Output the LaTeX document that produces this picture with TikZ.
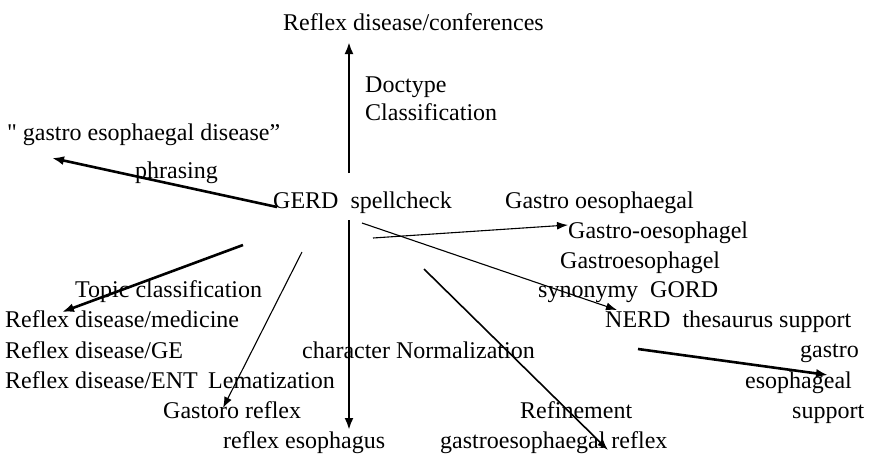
\documentclass[tikz,border=0pt]{standalone}
\usepackage{fontspec}
\setmainfont{Liberation Serif}
\usetikzlibrary{arrows.meta}
\begin{document}
\begin{tikzpicture}[x=1pt,y=-1pt,
  lbl/.style={anchor=base west,inner sep=0pt,font=\fontsize{24}{28}\selectfont},
  thick arrow/.style={line width=2.6pt,-{Latex[length=12pt,width=9pt]}},
  thin arrow/.style={line width=1.1pt,-{Latex[length=11pt,width=8pt]}},
  mid arrow/.style={line width=1.6pt,-{Latex[length=11pt,width=8pt]}}]
\path[use as bounding box,fill=white] (0,0) rectangle (874,456);
% texts
\node[lbl] (conf) at (283,30) {Reflex disease/conferences};
\node[lbl] (doctype) at (365,92) {Doctype};
\node[lbl] (classif) at (365,120) {Classification};
\node[lbl] (gedq) at (7,140) {\textquotedbl\ gastro esophaegal disease”};
\node[lbl] (phrasing) at (135,178) {phrasing};
\node[lbl] (gerd) at (273,208) {GERD\ \ spellcheck};
\node[lbl] (go1) at (505,208) {Gastro oesophaegal};
\node[lbl] (go2) at (568,238) {Gastro-oesophagel};
\node[lbl] (go3) at (560,268) {Gastroesophagel};
\node[lbl] (syn) at (538,297) {synonymy\ \ GORD};
\node[lbl] (nerd) at (605,327) {NERD\ \ thesaurus support};
\node[lbl] (gastro) at (800,357) {gastro};
\node[lbl] (esoph) at (745,388) {esophageal};
\node[lbl] (support) at (792,418) {support};
\node[lbl] (topic) at (75,297) {Topic classification};
\node[lbl] (med) at (5,327) {Reflex disease/medicine};
\node[lbl] (ge) at (5,358) {Reflex disease/GE};
\node[lbl] (ent) at (5,388) {Reflex disease/ENT};
\node[lbl] (lema) at (208,388) {Lematization};
\node[lbl] (charn) at (302,358) {character Normalization};
\node[lbl] (gastoro) at (163,418) {Gastoro reflex};
\node[lbl] (refesoph) at (223,448) {reflex esophagus};
\node[lbl] (refine) at (520,418) {Refinement};
\node[lbl] (gerdreflex) at (440,448) {gastroesophaegal reflex};
% connector ends
\coordinate (upS) at (349,173);
\coordinate (upT) at (349,42);
\coordinate (dnS) at (349,220);
\coordinate (dnT) at (349,430);
\coordinate (phS) at (277,207);
\coordinate (phT) at (52,158);
\coordinate (tpS) at (243,245);
\coordinate (tpT) at (62,312);
\coordinate (lmS) at (302,252);
\coordinate (lmT) at (223,408);
\coordinate (rfS) at (424,269);
\coordinate (rfT) at (608,450);
\coordinate (g2S) at (373,238);
\coordinate (g2T) at (568,225);
\coordinate (nrS) at (362,223);
\coordinate (nrT) at (617,310);
\coordinate (thS) at (638,349);
\coordinate (thT) at (828,375);
% connectors
\draw[thick arrow] (upS) -- (upT);
\draw[thick arrow] (dnS) -- (dnT);
\draw[thick arrow] (phS) -- (phT);
\draw[thick arrow] (tpS) -- (tpT);
\draw[thin arrow] (lmS) -- (lmT);
\draw[mid arrow] (rfS) -- (rfT);
\draw[thin arrow] (g2S) -- (g2T);
\draw[thin arrow] (nrS) -- (nrT);
\draw[thick arrow] (thS) -- (thT);
\end{tikzpicture}
\end{document}
